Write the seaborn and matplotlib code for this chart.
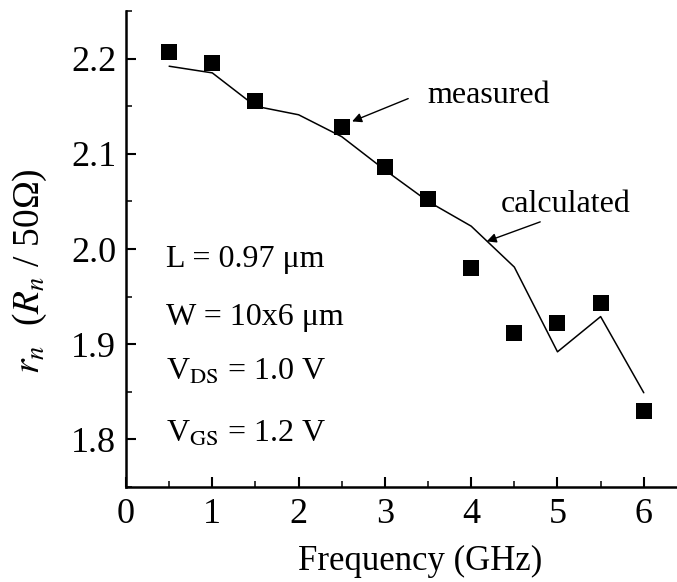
import matplotlib
matplotlib.use("Agg")
import matplotlib.pyplot as plt
import seaborn as sns
import pandas as pd
from matplotlib.ticker import AutoMinorLocator

# ---- data ----
freq = [0.5, 1.0, 1.5, 2.0, 2.5, 3.0, 3.5, 4.0, 4.5, 5.0, 5.5, 6.0]
measured_freq = [0.5, 1.0, 1.5, 2.5, 3.0, 3.5, 4.0, 4.5, 5.0, 5.5, 6.0]
measured = [2.207, 2.195, 2.155, 2.128, 2.086, 2.052, 1.980, 1.912, 1.922, 1.943, 1.830]
calculated = [2.192, 2.185, 2.150, 2.141, 2.118, 2.083, 2.050, 2.024, 1.981, 1.892, 1.929, 1.849]
xticks = [0, 1, 2, 3, 4, 5, 6]
yticks = [1.8, 1.9, 2.0, 2.1, 2.2]
info_lines = ["L = 0.97 \u03bcm", "W = 10x6 \u03bcm",
              "V$_{\\mathrm{DS}}$ = 1.0 V", "V$_{\\mathrm{GS}}$ = 1.2 V"]

sns.set_theme(style="ticks")
plt.rcParams["font.family"] = ["Liberation Serif", "DejaVu Serif"]
plt.rcParams["mathtext.fontset"] = "stix"
plt.rcParams["axes.linewidth"] = 1.8

df_calc = pd.DataFrame({"f": freq, "r": calculated})
df_meas = pd.DataFrame({"f": measured_freq, "r": measured})

fig = plt.figure(figsize=(6.77, 5.82), dpi=100)
ax = fig.add_axes([126/677, 95/582, 551/677, 476/582])

sns.lineplot(data=df_calc, x="f", y="r", ax=ax, color="black", lw=1.1)
sns.scatterplot(data=df_meas, x="f", y="r", ax=ax, marker="s", s=130,
                color="black", edgecolor="black", linewidth=0, zorder=3)

ax.set_xlim(0, 6.385)
ax.set_ylim(1.75, 2.25)
ax.set_xticks(xticks)
ax.set_yticks(yticks)
ax.set_xticklabels([str(t) for t in xticks])
ax.set_yticklabels([f"{t:.1f}" for t in yticks])
ax.xaxis.set_minor_locator(AutoMinorLocator(2))
ax.yaxis.set_minor_locator(AutoMinorLocator(2))
ax.tick_params(which="major", direction="in", length=7, width=1.5,
               labelsize=26, colors="black")
ax.tick_params(axis="y", which="major", pad=7)
ax.tick_params(axis="x", which="major", pad=8)
ax.tick_params(which="minor", direction="in", length=4, width=1.3)
for s in ["top", "right"]:
    ax.spines[s].set_visible(False)
for s in ["left", "bottom"]:
    ax.spines[s].set_color("black")

ax.set_xlabel("Frequency (GHz)", fontsize=25, color="black")
ax.xaxis.set_label_coords(0.534, -0.122)
ax.set_ylabel("$r_n$  ($R_n$ / 50\u03a9)", fontsize=27, color="black")
ax.yaxis.set_label_coords(-0.14, 0.454)

ys = [0.462, 0.340, 0.225, 0.0945]
for txt, yy in zip(info_lines, ys):
    ax.text(0.0726, yy, txt, transform=ax.transAxes, fontsize=23,
            va="baseline", ha="left", color="black")

# annotation labels and arrows
ax.text(3.49, 2.1615, "measured", fontsize=23, va="center", ha="left", color="black")
ax.annotate("", xy=(2.62, 2.134), xytext=(3.27, 2.158),
            arrowprops=dict(arrowstyle="-|>", color="black", lw=1.0,
                            mutation_scale=14, shrinkA=0, shrinkB=0))
ax.text(4.34, 2.047, "calculated", fontsize=23, va="center", ha="left", color="black")
ax.annotate("", xy=(4.18, 2.008), xytext=(4.80, 2.0285),
            arrowprops=dict(arrowstyle="-|>", color="black", lw=1.0,
                            mutation_scale=14, shrinkA=0, shrinkB=0))

fig.savefig("out.png", dpi=100, facecolor="white")
